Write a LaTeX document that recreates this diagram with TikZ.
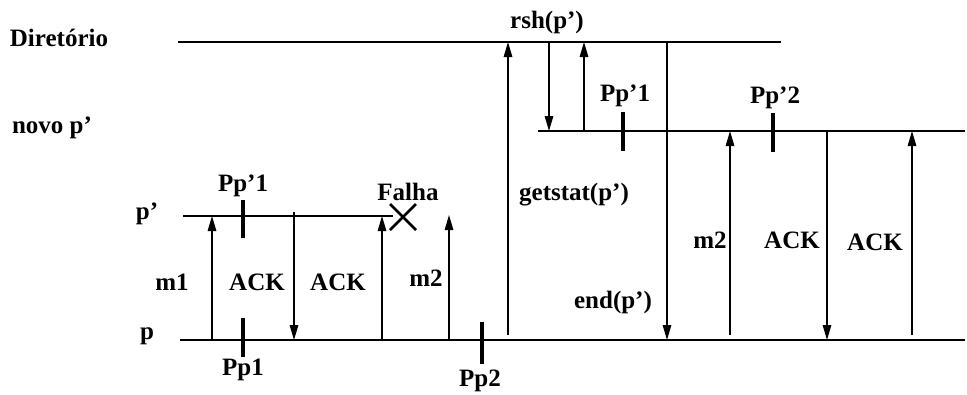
\documentclass[tikz,border=0pt]{standalone}
\usepackage{fontspec}
\setmainfont{Liberation Serif}
\usetikzlibrary{arrows.meta}
\begin{document}
\begin{tikzpicture}[x=0.4pt,y=-0.4pt,
  lbl/.style={font=\fontsize{10}{12}\selectfont\bfseries,inner sep=0pt},
  proc/.style={line width=0.6pt},
  msg/.style={line width=0.55pt,-{Triangle[length=6pt,width=3.4pt]}},
  cut/.style={line width=1.3pt}]
\useasboundingbox (0,0) rectangle (967,394);
% process lines
\coordinate (dir-a) at (178,42);  \coordinate (dir-b) at (781,42);
\coordinate (nov-a) at (538,131); \coordinate (nov-b) at (965,131);
\coordinate (pl-a) at (183,216);  \coordinate (pl-b) at (393,216);
\coordinate (p-a) at (180,340);   \coordinate (p-b) at (965,340);
\draw[proc] (dir-a) -- (dir-b);
\draw[proc] (nov-a) -- (nov-b);
\draw[proc] (pl-a) -- (pl-b);
\draw[proc] (p-a) -- (p-b);
\node[lbl] (dir) at (59,38) {Diretório};
\node[lbl] (nov) at (52,128) {novo p’};
\node[lbl] (pl) at (147,214) {p’};
\node[lbl] (p) at (147,336) {p};
% messages between p and p'
\coordinate (m1-s) at (212,340);  \coordinate (m1-e) at (212,216);
\coordinate (ack1-s) at (294,212); \coordinate (ack1-e) at (294,340);
\coordinate (ack2-s) at (382,340); \coordinate (ack2-e) at (382,216);
\coordinate (m2-s) at (449,340);  \coordinate (m2-e) at (449,215);
\draw[msg] (m1-s) -- (m1-e);
\draw[msg] (ack1-s) -- (ack1-e);
\draw[msg] (ack2-s) -- (ack2-e);
\draw[msg] (m2-s) -- (m2-e);
\node[lbl] (m1) at (172,282) {m1};
\node[lbl] (ack1) at (257,282) {ACK};
\node[lbl] (ack2) at (338,282) {ACK};
\node[lbl] (m2) at (426,278) {m2};
% failure of p'
\coordinate (fail) at (403,217);
\draw[line width=1pt] ([shift={(-13,-13)}]fail) -- ([shift={(13,13)}]fail)
  ([shift={(-13,13)}]fail) -- ([shift={(13,-13)}]fail);
\node[lbl] (falha) at (408,192) {Falha};
% checkpoints
\coordinate (c1-a) at (243,200); \coordinate (c1-b) at (243,238);
\coordinate (c2-a) at (243,318); \coordinate (c2-b) at (243,357);
\coordinate (c3-a) at (482,322); \coordinate (c3-b) at (482,364);
\coordinate (c4-a) at (623,112); \coordinate (c4-b) at (623,151);
\coordinate (c5-a) at (773,113); \coordinate (c5-b) at (773,152);
\draw[cut] (c1-a) -- (c1-b);
\draw[cut] (c2-a) -- (c2-b);
\draw[cut] (c3-a) -- (c3-b);
\draw[cut] (c4-a) -- (c4-b);
\draw[cut] (c5-a) -- (c5-b);
\node[lbl] (pp1a) at (243,186) {Pp’1};
\node[lbl] (pp1) at (243,370) {Pp1};
\node[lbl] (pp2) at (480,381) {Pp2};
\node[lbl] (pp1b) at (625,96) {Pp’1};
\node[lbl] (pp2b) at (775,98) {Pp’2};
% recovery through the directory
\coordinate (gs-s) at (508,335);  \coordinate (gs-e) at (508,42);
\coordinate (rsh-s) at (549,42);  \coordinate (rsh-e) at (549,131);
\coordinate (ok-s) at (584,131);  \coordinate (ok-e) at (584,42);
\coordinate (end-s) at (667,42);  \coordinate (end-e) at (667,340);
\draw[msg] (gs-s) -- (gs-e);
\draw[msg] (rsh-s) -- (rsh-e);
\draw[msg] (ok-s) -- (ok-e);
\draw[msg] (end-s) -- (end-e);
\node[lbl] (rsh) at (547,22) {rsh(p’)};
\node[lbl] (gs) at (574,195) {getstat(p’)};
\node[lbl] (end) at (613,302) {end(p’)};
% messages between p and novo p'
\coordinate (n1-s) at (730,335);  \coordinate (n1-e) at (730,131);
\coordinate (n2-s) at (827,131);  \coordinate (n2-e) at (827,340);
\coordinate (n3-s) at (912,335);  \coordinate (n3-e) at (912,131);
\draw[msg] (n1-s) -- (n1-e);
\draw[msg] (n2-s) -- (n2-e);
\draw[msg] (n3-s) -- (n3-e);
\node[lbl] (m2b) at (710,240) {m2};
\node[lbl] (ack3) at (792,240) {ACK};
\node[lbl] (ack4) at (875,242) {ACK};
\end{tikzpicture}
\end{document}
